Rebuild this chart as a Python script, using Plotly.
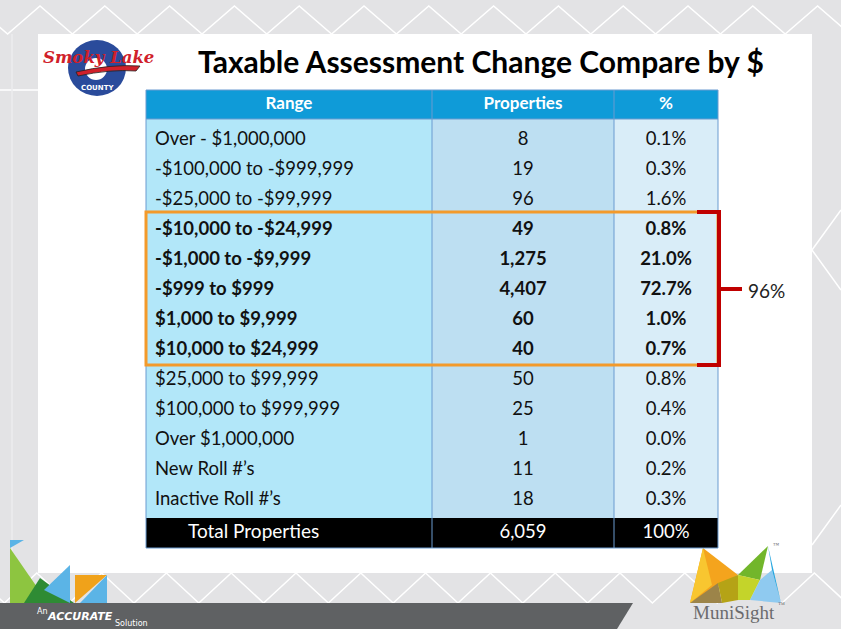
import plotly.graph_objects as go

# ---------------- data ----------------
headers = ["Range", "Properties", "%"]
ranges = [
    "Over - $1,000,000",
    "-$100,000 to -$999,999",
    "-$25,000 to -$99,999",
    "-$10,000 to -$24,999",
    "-$1,000 to -$9,999",
    "-$999 to $999",
    "$1,000 to $9,999",
    "$10,000 to $24,999",
    "$25,000 to $99,999",
    "$100,000 to $999,999",
    "Over $1,000,000",
    "New Roll #\u2019s",
    "Inactive Roll #\u2019s",
]
properties = [8, 19, 96, 49, 1275, 4407, 60, 40, 50, 25, 1, 11, 18]
percents = [0.1, 0.3, 1.6, 0.8, 21.0, 72.7, 1.0, 0.7, 0.8, 0.4, 0.0, 0.2, 0.3]
highlight_rows = [3, 4, 5, 6, 7]
total_label = "Total Properties"
total_properties = 6059
total_percent = "100%"
bracket_label = "96%"
title = "Taxable Assessment Change Compare by $"

# ---------------- layout constants ----------------
W, H = 841, 629
FONT = "Lato, 'Open Sans', sans-serif"
col_edges = [146, 432, 614, 718]
col_fill = ["#b2e7f9", "#bddff2", "#d9edf8"]
header_fill = "#0f9bd8"
grid = "#6a9bd0"
head_top, head_bot = 90, 119
row0, row_h = 140, 30          # text centre of first row, spacing
data_bot = 518
total_bot = 548

def row_y(i):
    return row0 + row_h * i

shapes = []
annotations = []

def add(**kw):
    kw.setdefault("layer", "below")
    shapes.append(kw)

# background card
add(type="rect", x0=38, x1=812, y0=34, y1=573, fillcolor="white", line_width=0)

# decorative zigzags (top band and bottom band)
top_pts = []
x = 40 - 32.4 - 64.8
k = 0
while x < W + 70:
    top_pts.append((x, 34 if k % 2 == 0 else 6))
    x += 32.4
    k += 1
add(type="path", path="M " + " L ".join(f"{a:.1f},{b}" for a, b in top_pts),
    line=dict(color="white", width=1.5))
bot_pts = []
x = 134 - 32.4 * 5
k = 1
while x < W + 70:
    bot_pts.append((x, 603 if k % 2 == 0 else 573))
    x += 32.4
    k += 1
add(type="path", path="M " + " L ".join(f"{a:.1f},{b}" for a, b in bot_pts),
    line=dict(color="white", width=1.5))
add(type="path", path="M 812,250 L 841,210 M 812,250 L 841,290 M 812,545 L 841,505",
    line=dict(color="white", width=1.5))
add(type="line", x0=0, x1=38, y0=90, y1=90, line=dict(color="white", width=1.5))
add(type="line", x0=12, x1=12, y0=34, y1=573, line=dict(color="#ececee", width=1.5))

# dark footer band
add(type="path", path="M 0,603 L 633,603 L 617,629 L 0,629 Z", fillcolor="#5f6163", line_width=0)

# bottom-left coloured triangles
tri = [
    ("M 10,540 L 24,540 L 10,548 Z", "#5bb4e6"),
    ("M 10,548 L 10,603 L 48,603 Z", "#8dc540"),
    ("M 40,578 L 24,603 L 74,603 Z", "#2e8b34"),
    ("M 70,565 L 70,603 L 44,590 Z", "#5bb4e6"),
    ("M 75,575 L 107,575 L 75,603 Z", "#f0a21a"),
    ("M 107,575 L 107,603 L 80,603 Z", "#5bb4e6"),
]
for p, c in tri:
    add(type="path", path=p, fillcolor=c, line_width=0)

# MuniSight logo triangles
m_tri = [
    ("M 703,548 L 738,575 L 690,603 Z", "#f4a41d"),
    ("M 703,548 L 712,585 L 690,603 Z", "#f8c630"),
    ("M 690,603 L 718,583 L 722,603 Z", "#9c8449"),
    ("M 718,583 L 738,575 L 738,600 L 722,603 Z", "#b5a316"),
    ("M 738,575 L 768,546 L 760,580 Z", "#72b62b"),
    ("M 738,575 L 760,580 L 750,600 L 738,600 Z", "#c4d42a"),
    ("M 760,580 L 750,600 L 781,603 L 772,570 Z", "#8fcaf0"),
    ("M 768,546 L 781,603 L 772,570 Z", "#26a6e0"),
]
for p, c in m_tri:
    add(type="path", path=p, fillcolor=c, line_width=0)

# Smoky Lake logo
add(type="circle", x0=68, x1=126, y0=40, y1=96, fillcolor="#2a4b9b", line_width=0)
add(type="circle", x0=85, x1=107, y0=58, y1=80, fillcolor="white", line_width=0)
add(type="path", path="M 76,72 Q 110,64 140,66 L 136,71 Q 110,69 78,76 Z",
    fillcolor="#d0202a", line=dict(color="#222", width=0.8))

# table column fills
for j in range(3):
    add(type="rect", x0=col_edges[j], x1=col_edges[j + 1], y0=head_bot, y1=data_bot,
        fillcolor=col_fill[j], line_width=0)
add(type="rect", x0=col_edges[0], x1=col_edges[-1], y0=head_top, y1=head_bot,
    fillcolor=header_fill, line_width=0)
add(type="rect", x0=col_edges[0], x1=col_edges[-1], y0=data_bot, y1=total_bot,
    fillcolor="black", line_width=0)
for xe in col_edges[1:-1]:
    add(type="line", x0=xe, x1=xe, y0=head_top, y1=total_bot, line=dict(color=grid, width=1))
add(type="rect", x0=col_edges[0], x1=col_edges[-1], y0=head_top, y1=total_bot,
    line=dict(color=grid, width=1))
add(type="line", x0=col_edges[0], x1=col_edges[-1], y0=head_bot, y1=head_bot,
    line=dict(color=grid, width=1))

# highlight box and bracket
hi_top = row_y(highlight_rows[0]) - 18
hi_bot = row_y(highlight_rows[-1]) + 15
hi_mid = row_y(highlight_rows[len(highlight_rows) // 2])
add(type="rect", x0=col_edges[0], x1=col_edges[-1], y0=hi_top, y1=hi_bot,
    line=dict(color="#f39a2b", width=3), layer="above")
bx = col_edges[-1] + 1
add(type="path",
    path=f"M {bx-22},{hi_top} L {bx},{hi_top} L {bx},{hi_bot} L {bx-22},{hi_bot} M {bx},{hi_mid-1} L {bx+23},{hi_mid-1}",
    line=dict(color="#c00000", width=4), layer="above")

fig = go.Figure()

centers = [(col_edges[j] + col_edges[j + 1]) / 2 for j in range(3)]

def fmt(s, i):
    return f"<b>{s}</b>" if i in highlight_rows else s

ys = [row_y(i) for i in range(len(ranges))]
TS = 18.5
fig.add_trace(go.Scatter(x=[155] * len(ranges), y=ys, mode="text",
                         text=[fmt(r, i) for i, r in enumerate(ranges)],
                         textposition="middle right", textfont=dict(family=FONT, size=TS, color="#111")))
fig.add_trace(go.Scatter(x=[centers[1]] * len(ranges), y=ys, mode="text",
                         text=[fmt(f"{v:,}", i) for i, v in enumerate(properties)],
                         textposition="middle center", textfont=dict(family=FONT, size=TS, color="#111")))
fig.add_trace(go.Scatter(x=[centers[2]] * len(ranges), y=ys, mode="text",
                         text=[fmt(f"{v:.1f}%", i) for i, v in enumerate(percents)],
                         textposition="middle center", textfont=dict(family=FONT, size=TS, color="#111")))
fig.add_trace(go.Scatter(x=centers, y=[(head_top + head_bot) / 2] * 3, mode="text",
                         text=[f"<b>{h}</b>" for h in headers], textposition="middle center",
                         textfont=dict(family=FONT, size=17, color="white")))
ty = (data_bot + total_bot) / 2
fig.add_trace(go.Scatter(x=[188], y=[ty], mode="text", text=[total_label], textposition="middle right",
                         textfont=dict(family=FONT, size=19, color="white")))
fig.add_trace(go.Scatter(x=centers[1:], y=[ty, ty], mode="text",
                         text=[f"{total_properties:,}", total_percent], textposition="middle center",
                         textfont=dict(family=FONT, size=TS, color="white")))

annotations.append(dict(x=481, y=61, text=f"<b>{title}</b>", showarrow=False,
                        font=dict(family=FONT, size=30, color="black"), xanchor="center", yanchor="middle"))
annotations.append(dict(x=bx + 27, y=hi_mid, text=bracket_label, showarrow=False,
                        font=dict(family=FONT, size=19, color="#222"), xanchor="left", yanchor="middle"))
annotations.append(dict(x=98, y=57, text="<b><i>Smoky Lake</i></b>", showarrow=False,
                        font=dict(family="DejaVu Serif", size=16.5, color="#d0202a"), xanchor="center", yanchor="middle"))
annotations.append(dict(x=97, y=88, text="<b>COUNTY</b>", showarrow=False,
                        font=dict(family="DejaVu Sans", size=7, color="white"), xanchor="center", yanchor="middle"))
annotations.append(dict(x=734, y=612, text="MuniSight", showarrow=False,
                        font=dict(family="Liberation Serif", size=19, color="#6b6b6d"), xanchor="center", yanchor="middle"))
annotations.append(dict(x=776, y=605, text="\u2122", showarrow=False,
                        font=dict(family="Liberation Serif", size=7, color="#6b6b6d"), xanchor="left", yanchor="middle"))
annotations.append(dict(x=771, y=545, text="\u2122", showarrow=False,
                        font=dict(family="Liberation Serif", size=6, color="#6b6b6d"), xanchor="left", yanchor="middle"))
annotations.append(dict(x=42, y=611, text="An", showarrow=False,
                        font=dict(family="DejaVu Sans", size=8, color="white"), xanchor="center", yanchor="middle"))
annotations.append(dict(x=80, y=616, text="<b><i>ACCURATE</i></b>", showarrow=False,
                        font=dict(family="DejaVu Sans", size=11, color="white"), xanchor="center", yanchor="middle"))
annotations.append(dict(x=131, y=623, text="Solution", showarrow=False,
                        font=dict(family="DejaVu Sans", size=8, color="white"), xanchor="center", yanchor="middle"))

fig.update_layout(
    width=W, height=H, margin=dict(l=0, r=0, t=0, b=0),
    paper_bgcolor="#e3e3e5", plot_bgcolor="rgba(0,0,0,0)",
    showlegend=False, shapes=shapes, annotations=annotations,
    xaxis=dict(range=[0, W], visible=False, fixedrange=True),
    yaxis=dict(range=[H, 0], visible=False, fixedrange=True),
)
fig.write_html("out.html", config={"displayModeBar": False, "staticPlot": True},
               post_script="document.body.style.margin='0';")
